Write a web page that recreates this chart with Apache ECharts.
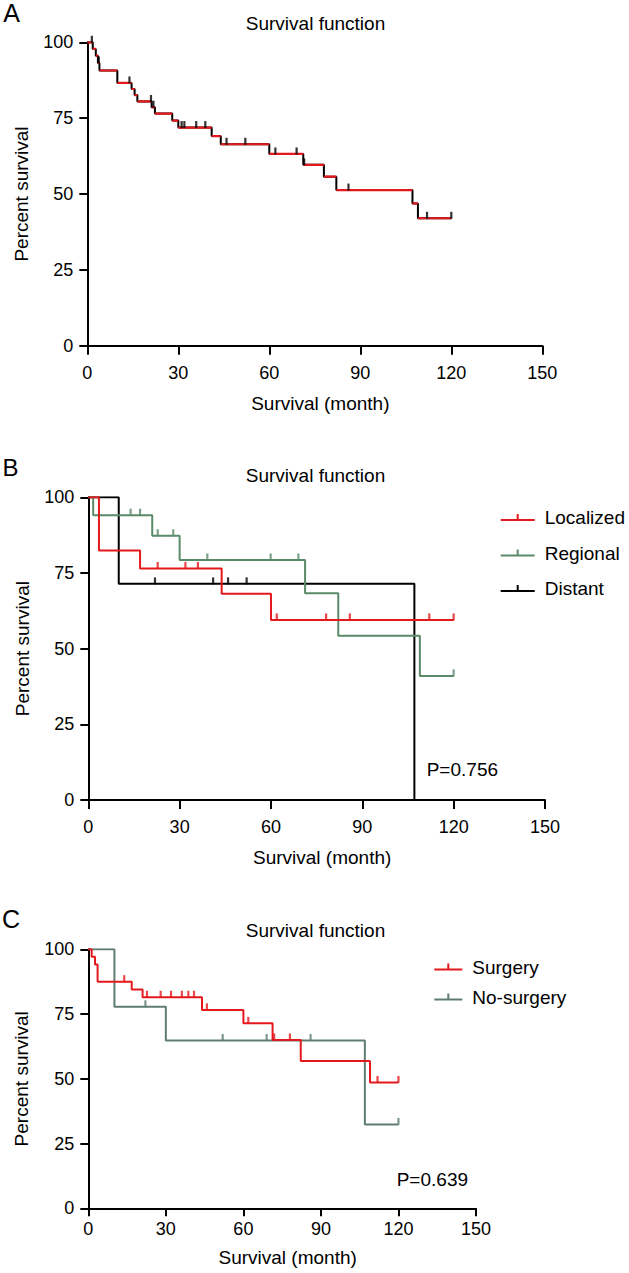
<!DOCTYPE html>
<html>
<head>
<meta charset="utf-8">
<script src="https://cdn.jsdelivr.net/npm/echarts@6/dist/echarts.min.js"></script>
<style>
html,body{margin:0;padding:0;background:#fff;}
#chart{width:629px;height:1273px;}
</style>
</head>
<body>
<div id="chart"></div>
<script>
// ---------- data ----------
const xTicks = [0, 30, 60, 90, 120, 150];
const yTicks = [0, 25, 50, 75, 100];

// Panel A: all patients
const aTime = [0, 1.8, 2.8, 3.5, 4.0, 9.9, 14.6, 15.6, 16.5, 21.2, 22.3, 28.0, 30.0, 41.0, 44.0, 60.0, 71.2, 78.0, 82.1, 107.2, 109.0, 120];
const aSurv = [100, 97.8, 95.6, 93.2, 90.7, 86.6, 84.6, 82.6, 80.5, 78.6, 76.5, 74.2, 71.9, 69.1, 66.4, 63.2, 59.6, 55.7, 51.3, 46.9, 42.0, 42.0];
const aCens = [1.5, 3.8, 13.9, 21.0, 21.8, 31.1, 32.0, 35.9, 38.9, 45.9, 52.1, 62.0, 69.0, 71.5, 86.1, 112.0, 120.0];

// Panel B: stage
const bLocTime = [0, 3.5, 17.0, 43.8, 60.0, 120];
const bLocSurv = [100, 82.4, 76.5, 68.1, 59.5, 59.5];
const bLocCens = [22.8, 31.9, 36.0, 61.9, 78.1, 85.9, 112.0, 120];
const bRegTime = [0, 1.6, 21.0, 30.0, 71.2, 82.1, 108.9, 120];
const bRegSurv = [100, 94.1, 87.3, 79.3, 68.3, 54.3, 41.0, 41.0];
const bRegCens = [13.9, 17.0, 22.8, 27.9, 39.1, 59.9, 69.0, 120];
const bDisTime = [0, 10.0, 107.1];
const bDisSurv = [100, 71.4, 0];
const bDisCens = [21.9, 41.0, 45.9, 52.0];

// Panel C: surgery
const cSurTime = [0, 1.3, 2.6, 3.6, 16.8, 21.0, 44.0, 60.0, 71.3, 82.2, 109.0, 120];
const cSurSurv = [100, 97.1, 94.1, 87.5, 84.5, 81.5, 76.6, 71.4, 65.0, 56.9, 48.6, 48.6];
const cSurCens = [13.9, 22.7, 28.0, 32.0, 36.2, 38.7, 40.9, 45.9, 61.9, 71.9, 78.0, 111.9, 120];
const cNoTime = [0, 10.1, 30.0, 107.0, 120];
const cNoSurv = [100, 77.8, 64.8, 32.4, 32.4];
const cNoCens = [22.1, 52.0, 69.0, 86.0, 120];

const pB = 'P=0.756';
const pC = 'P=0.639';

// ---------- helpers ----------
const FONT = '"Liberation Sans", Arial, Helvetica, sans-serif';
const RED = '#e3191d';
const GREEN = '#5a8b69';
const GREY = '#5f7c72';

function pairs(t, s) { return t.map((v, i) => [v, s[i]]); }
function levelAt(t, s, x) {
  let lv = s[0];
  for (let i = 0; i < t.length; i++) { if (t[i] <= x) lv = s[i]; }
  return lv;
}
function censPts(t, s, c) { return c.map(x => [x, levelAt(t, s, x)]); }
function horizontals(t, s) {
  const out = [];
  for (let i = 0; i < t.length - 1; i++) {
    out.push([t[i], s[i]], [t[i + 1], s[i]], [t[i + 1], '-']);
  }
  return out;
}

function xAxisFor(g, margin, nameGap, tickLen) {
  return {
    type: 'value', gridIndex: g, min: xTicks[0], max: xTicks[xTicks.length - 1],
    interval: xTicks[1] - xTicks[0],
    axisLine: { show: true, onZero: false, lineStyle: { color: '#000', width: 2 } },
    axisTick: { show: true, length: tickLen, lineStyle: { color: '#000', width: 2 } },
    axisLabel: { color: '#000', fontSize: 18, fontFamily: FONT, margin: margin },
    splitLine: { show: false },
    name: 'Survival (month)', nameLocation: 'middle', nameGap: nameGap,
    nameTextStyle: { color: '#000', fontSize: 19, fontFamily: FONT, padding: [0, 0, 0, 11] }
  };
}
function yAxisFor(g, nameGap) {
  return {
    type: 'value', gridIndex: g, min: yTicks[0], max: yTicks[yTicks.length - 1],
    interval: yTicks[1] - yTicks[0],
    axisLine: { show: true, onZero: false, lineStyle: { color: '#000', width: 2 } },
    axisTick: { show: true, length: 8, lineStyle: { color: '#000', width: 2 } },
    axisLabel: { color: '#000', fontSize: 18, fontFamily: FONT, margin: 14 },
    splitLine: { show: false },
    name: 'Percent survival', nameLocation: 'middle', nameGap: nameGap, nameRotate: 90,
    nameTextStyle: { color: '#000', fontSize: 19, fontFamily: FONT }
  };
}
function stepSeries(name, g, t, s, color, z) {
  return {
    name: name, type: 'line', step: 'end', xAxisIndex: g, yAxisIndex: g,
    data: pairs(t, s), showSymbol: false, symbol: 'none', color: color,
    lineStyle: { color: color, width: 2 }, z: z, silent: true
  };
}
function tickSeries(name, g, t, s, c, color, z) {
  return {
    name: name, type: 'scatter', xAxisIndex: g, yAxisIndex: g,
    data: censPts(t, s, c), symbol: 'rect', symbolSize: [2.2, 7], symbolOffset: [0, -3],
    color: color, itemStyle: { color: color }, z: z, silent: true
  };
}

const legendIcon = 'path://M0,5h34v2h-34zM16,0h2v6h-2z';

const option = {
  animation: false,
  backgroundColor: '#fff',
  grid: [
    { left: 87.3, top: 42.3, width: 455, height: 303.4 },
    { left: 88.3, top: 497.3, width: 456.7, height: 302.7 },
    { left: 88.3, top: 949.3, width: 387.7, height: 259 }
  ],
  xAxis: [xAxisFor(0, 18, 48, 9), xAxisFor(1, 18, 48, 9), xAxisFor(2, 12, 40, 8)],
  yAxis: [yAxisFor(0, 56), yAxisFor(1, 56), yAxisFor(2, 57)],
  legend: [
    {
      data: ['Localized', 'Regional', 'Distant'], orient: 'vertical',
      left: 500.7, top: 508, padding: 0, itemWidth: 34, itemHeight: 7, itemGap: 16.5,
      icon: legendIcon, selectedMode: false,
      itemStyle: { borderWidth: 0 },
      textStyle: { color: '#000', fontSize: 19, fontFamily: FONT, padding: [0, 0, 0, 5] }
    },
    {
      data: ['Surgery', 'No-surgery'], orient: 'vertical',
      left: 434.3, top: 957.5, padding: 0, itemWidth: 28, itemHeight: 7, itemGap: 11,
      icon: 'path://M0,5h28v2h-28zM13,0h2v6h-2z', selectedMode: false,
      itemStyle: { borderWidth: 0 },
      textStyle: { color: '#000', fontSize: 19, fontFamily: FONT, padding: [0, 0, 0, 5] }
    }
  ],
  series: [
    // A
    stepSeries('All', 0, aTime, aSurv, '#000', 2),
    {
      name: 'All-red', type: 'line', xAxisIndex: 0, yAxisIndex: 0,
      data: horizontals(aTime, aSurv), showSymbol: false, symbol: 'none',
      connectNulls: false, color: RED, lineStyle: { color: RED, width: 2.2 }, z: 3, silent: true
    },
    tickSeries('All-cens', 0, aTime, aSurv, aCens, '#000', 4),
    // B
    stepSeries('Distant', 1, bDisTime, bDisSurv, '#000', 2),
    stepSeries('Regional', 1, bRegTime, bRegSurv, GREEN, 3),
    stepSeries('Localized', 1, bLocTime, bLocSurv, RED, 4),
    tickSeries('Distant', 1, bDisTime, bDisSurv, bDisCens, '#000', 5),
    tickSeries('Regional', 1, bRegTime, bRegSurv, bRegCens, GREEN, 5),
    tickSeries('Localized', 1, bLocTime, bLocSurv, bLocCens, RED, 5),
    // C
    stepSeries('No-surgery', 2, cNoTime, cNoSurv, GREY, 2),
    stepSeries('Surgery', 2, cSurTime, cSurSurv, RED, 3),
    tickSeries('No-surgery', 2, cNoTime, cNoSurv, cNoCens, GREY, 4),
    tickSeries('Surgery', 2, cSurTime, cSurSurv, cSurCens, RED, 4)
  ],
  graphic: [
    { type: 'text', x: 11.5, y: 13, style: { text: 'A', font: '25px ' + FONT, fill: '#000', align: 'center', verticalAlign: 'middle' } },
    { type: 'text', x: 10.5, y: 467, style: { text: 'B', font: '24px ' + FONT, fill: '#000', align: 'center', verticalAlign: 'middle' } },
    { type: 'text', x: 11, y: 918.5, style: { text: 'C', font: '25px ' + FONT, fill: '#000', align: 'center', verticalAlign: 'middle' } },
    { type: 'text', x: 315.5, y: 23, style: { text: 'Survival function', font: '19px ' + FONT, fill: '#000', align: 'center', verticalAlign: 'middle' } },
    { type: 'text', x: 315.5, y: 475.5, style: { text: 'Survival function', font: '19px ' + FONT, fill: '#000', align: 'center', verticalAlign: 'middle' } },
    { type: 'text', x: 315.5, y: 930, style: { text: 'Survival function', font: '19px ' + FONT, fill: '#000', align: 'center', verticalAlign: 'middle' } },
    { type: 'text', x: 426.7, y: 769.3, style: { text: pB, font: '19px ' + FONT, fill: '#000', align: 'left', verticalAlign: 'middle' } },
    { type: 'text', x: 396.7, y: 1179.3, style: { text: pC, font: '19px ' + FONT, fill: '#000', align: 'left', verticalAlign: 'middle' } }
  ]
};

const chart = echarts.init(document.getElementById('chart'), null, { renderer: 'svg' });
chart.setOption(option);
</script>
</body>
</html>
